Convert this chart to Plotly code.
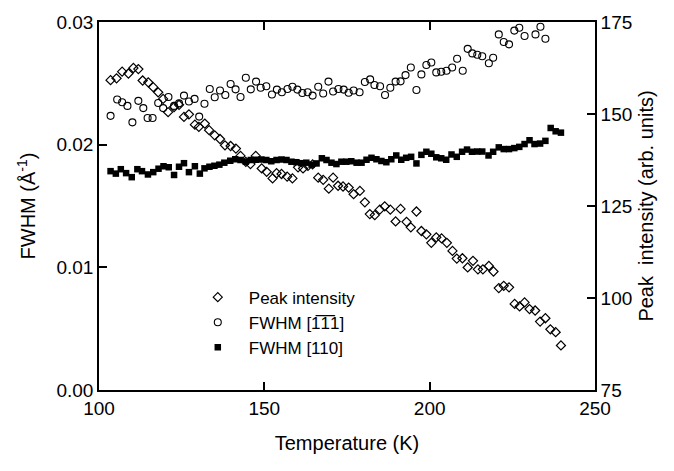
import plotly.graph_objects as go

# ---- Peak intensity (right axis) ----
T_peak = [103.5,105.3,107.0,108.9,110.4,111.9,113.2,114.9,116.4,117.9,119.4,120.9,122.7,124.2,125.7,127.2,
          129.0,130.2,132.0,133.3,135.0,136.6,138.1,139.8,141.4,142.8,144.4,145.8,147.4,149.2,150.7,152.5,
          153.7,155.2,156.9,158.5,160.2,161.7,163.2,164.6,166.3,167.8,169.5,170.8,172.3,173.8,175.5,177.0,
          178.9,180.4,181.9,183.4,184.9,186.4,188.1,189.7,191.2,193.0,194.3,196.0,197.5,199.0,200.5,202.0,
          203.6,205.2,206.9,208.2,209.9,211.5,213.1,214.6,216.1,217.9,219.3,220.9,222.4,224.0,225.7,227.2,
          228.7,230.2,231.9,233.4,235.0,236.5,238.1,239.7]
I_peak = [159.2,159.7,161.5,161.0,162.5,162.2,159.1,158.6,157.3,155.9,154.1,150.5,151.9,152.5,149.2,149.9,
          147.1,146.5,147.4,145.6,144.2,143.2,141.5,141.3,140.6,138.6,137.0,136.4,138.6,135.2,134.3,132.5,
          133.9,133.7,133.0,132.5,135.5,135.2,135.9,136.3,132.7,132.1,129.7,132.7,130.5,130.3,130.0,128.2,
          129.1,126.0,122.8,122.5,124.0,124.9,124.0,120.8,124.2,120.7,119.2,123.5,118.2,117.3,115.0,116.5,
          116.2,115.0,112.8,110.7,110.8,108.3,110.1,107.8,107.8,108.7,107.2,102.7,103.3,102.9,98.4,97.7,
          98.8,97.0,96.6,93.6,94.5,91.5,90.7,87.1]

# ---- FWHM [-1-11] (left axis) ----
T_111 = [103.5,105.5,107.0,108.6,110.1,111.9,113.4,114.7,116.2,117.9,119.4,121.0,122.7,124.2,125.7,127.2,
         128.9,130.3,131.9,133.5,135.0,136.6,138.2,139.8,141.3,142.8,144.4,145.9,147.5,148.9,150.6,152.3,
         153.8,155.3,157.0,158.5,160.0,161.5,163.1,164.6,166.3,167.8,169.4,170.8,172.4,174.0,175.5,177.0,
         178.8,180.4,182.0,183.3,185.0,186.5,188.1,189.7,191.2,192.7,194.3,196.0,197.5,199.0,200.5,202.0,
         203.5,205.1,206.8,208.3,210.0,211.5,212.9,214.4,215.9,217.9,219.2,220.9,222.4,224.0,225.6,227.1,
         228.7,230.2,232.0,233.5,235.0]
F_111 = [0.02235,0.02368,0.02346,0.02316,0.02182,0.02357,0.02298,0.02217,0.02217,0.02340,0.02298,0.02389,
         0.02316,0.02337,0.02400,0.02352,0.02373,0.02229,0.02333,0.02454,0.02387,0.02441,0.02405,0.02494,
         0.02451,0.02389,0.02545,0.02451,0.02514,0.02464,0.02476,0.02409,0.02449,0.02427,0.02454,0.02472,
         0.02449,0.02421,0.02427,0.02400,0.02472,0.02417,0.02514,0.02433,0.02454,0.02449,0.02423,0.02441,
         0.02427,0.02511,0.02532,0.02486,0.02476,0.02405,0.02464,0.02514,0.02516,0.02567,0.02629,0.02446,
         0.02573,0.02650,0.02670,0.02589,0.02595,0.02603,0.02629,0.02700,0.02603,0.02781,0.02744,0.02733,
         0.02721,0.02664,0.02708,0.02899,0.02837,0.02818,0.02930,0.02953,0.02886,0.03006,0.02899,0.02961,
         0.02864]

# ---- FWHM [110] (left axis) ----
T_110 = [103.5,105.1,106.6,108.2,109.9,111.6,113.0,114.8,116.4,118.0,119.5,121.1,122.7,124.2,125.7,127.2,
         129.0,130.5,131.9,133.4,134.9,136.4,137.9,139.7,141.2,142.8,144.4,145.9,147.4,149.1,150.6,152.1,
         153.7,155.2,156.7,158.2,159.7,161.2,162.7,164.3,165.8,167.4,168.8,170.3,171.8,173.3,174.8,176.3,
         177.9,179.4,180.9,182.4,183.9,185.4,186.9,188.4,189.9,191.4,192.9,194.4,196.0,197.5,199.0,200.5,
         202.0,203.5,205.0,206.6,208.2,209.8,211.3,212.8,214.4,215.9,217.8,219.2,220.9,222.4,224.0,225.6,
         227.1,228.7,230.2,231.7,233.4,235.0,236.6,238.1,239.7]
F_110 = [0.01784,0.01764,0.01800,0.01768,0.01735,0.01800,0.01784,0.01757,0.01776,0.01804,0.01824,0.01816,
         0.01753,0.01820,0.01849,0.01776,0.01824,0.01764,0.01807,0.01820,0.01828,0.01837,0.01853,0.01869,
         0.01881,0.01875,0.01861,0.01875,0.01877,0.01879,0.01875,0.01865,0.01875,0.01879,0.01875,0.01861,
         0.01857,0.01849,0.01853,0.01837,0.01847,0.01889,0.01875,0.01853,0.01842,0.01861,0.01861,0.01865,
         0.01853,0.01853,0.01877,0.01893,0.01881,0.01867,0.01857,0.01881,0.01912,0.01877,0.01893,0.01901,
         0.01847,0.01917,0.01942,0.01926,0.01897,0.01889,0.01877,0.01920,0.01901,0.01942,0.01960,0.01942,
         0.01944,0.01944,0.01912,0.01942,0.01978,0.01964,0.01964,0.01972,0.01982,0.02005,0.02036,0.02005,
         0.02009,0.02031,0.02136,0.02109,0.02098]

FONT = "Liberation Sans, Arial, sans-serif"

fig = go.Figure()
fig.add_trace(go.Scatter(x=T_peak, y=I_peak, yaxis="y2", mode="markers", name="Peak intensity",
                         marker=dict(symbol="diamond-open", size=7, color="black", line=dict(width=1.2)),
                         cliponaxis=False))
fig.add_trace(go.Scatter(x=T_111, y=F_111, mode="markers", name="FWHM [1\u03051\u03051]",
                         marker=dict(symbol="circle-open", size=7, color="black", line=dict(width=1.1)),
                         cliponaxis=False))
fig.add_trace(go.Scatter(x=T_110, y=F_110, mode="markers", name="FWHM [110]",
                         marker=dict(symbol="square", size=6.5, color="black", line=dict(width=0)),
                         cliponaxis=False))

axis_common = dict(showgrid=False, zeroline=False, showline=True, linecolor="black", linewidth=1.6,
                   ticks="inside", ticklen=8, tickwidth=1.5, tickcolor="black",
                   tickfont=dict(family=FONT, size=19, color="black"))

fig.update_layout(
    width=674, height=471,
    margin=dict(l=99, r=78.5, t=19.5, b=81),
    paper_bgcolor="white", plot_bgcolor="white",
    font=dict(family=FONT, color="black"),
    xaxis=dict(range=[100, 250], tickvals=[100, 150, 200, 250], mirror="ticks",
               title=dict(text="Temperature (K)", font=dict(family=FONT, size=20), standoff=18),
               **axis_common),
    yaxis=dict(range=[0, 0.03], tickvals=[0, 0.01, 0.02, 0.03], tickformat=".2f",
               title=dict(text="FWHM (\u00c5<sup>-1</sup>)", font=dict(family=FONT, size=20), standoff=15),
               **axis_common),
    yaxis2=dict(range=[75, 175], tickvals=[75, 100, 125, 150, 175], overlaying="y", side="right",
                title=dict(text="Peak  intensity (arb. units)", font=dict(family=FONT, size=20), standoff=8),
                **axis_common),
    legend=dict(x=0.177, y=0.30, xanchor="left", yanchor="top", bgcolor="rgba(0,0,0,0)",
                font=dict(family=FONT, size=17, color="black"), itemwidth=52, tracegroupgap=0),
    showlegend=True,
)

fig.write_html("out.html")
